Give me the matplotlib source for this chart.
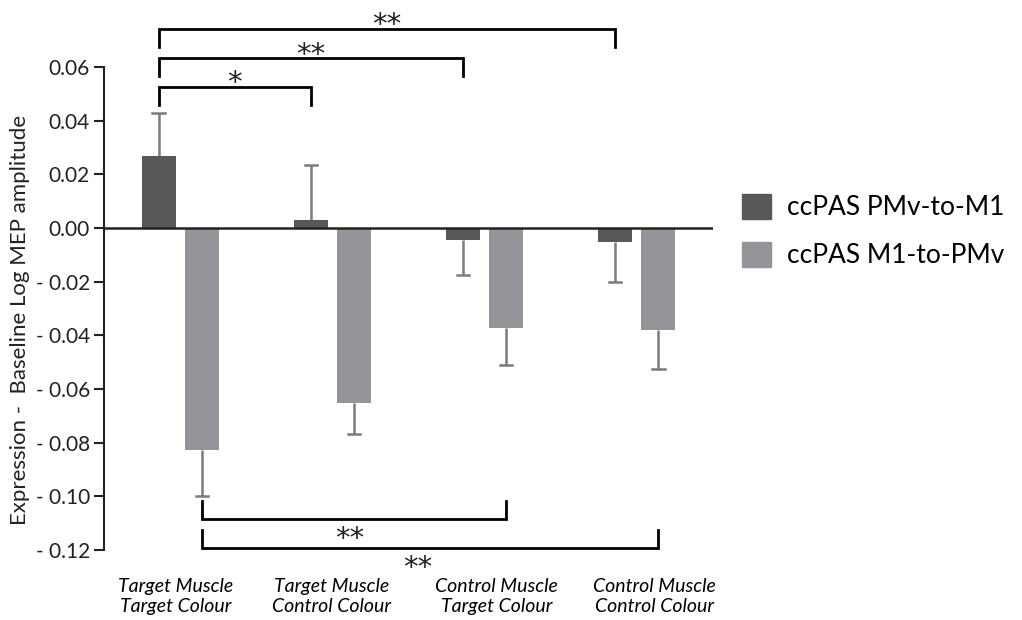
import numpy as np
import matplotlib
matplotlib.use("Agg")
import matplotlib.pyplot as plt
from matplotlib.patches import Patch

plt.rcParams['font.family'] = ['Lato', 'DejaVu Sans']

# data
groups = ["Target Muscle\nTarget Colour", "Target Muscle\nControl Colour",
          "Control Muscle\nTarget Colour", "Control Muscle\nControl Colour"]
series = ["ccPAS PMv-to-M1", "ccPAS M1-to-PMv"]
pmv_m1 = [0.0268, 0.0029, -0.0045, -0.0052]
pmv_m1_err = [0.0161, 0.0207, 0.0131, 0.0150]
m1_pmv = [-0.0826, -0.0654, -0.0374, -0.0381]
m1_pmv_err = [0.0172, 0.0115, 0.0138, 0.0146]
yticks = [0.06, 0.04, 0.02, 0.00, -0.02, -0.04, -0.06, -0.08, -0.10, -0.12]
ytick_labels = ["0.06", "0.04", "0.02", "0.00", "- 0.02", "- 0.04", "- 0.06",
                "- 0.08", "- 0.10", "- 0.12"]
ylabel = "Expression -  Baseline Log MEP amplitude"

# significance brackets: (group a, group b, label)
top_sig = [(0, 1, "*"), (0, 2, "**"), (0, 3, "**")]
bottom_sig = [(0, 2, "**"), (0, 3, "**")]

DARK = "#58585a"
LIGHT = "#939598"
ERRC = "#7a7b7d"

W, H = 1022, 620
fig = plt.figure(figsize=(W / 100, H / 100), dpi=100)
ax = fig.add_axes([104 / W, 1 - 550 / H, (713 - 104) / W, (550 - 67) / H])

x = np.arange(len(groups))
off = 0.1415
bw = 0.224
cap = 0.04
ax.bar(x - off, pmv_m1, bw, color=DARK, zorder=2)
ax.bar(x + off, m1_pmv, bw, color=LIGHT, zorder=2)

# one-sided error bars (away from zero)
def err_bar(xi, v, e):
    end = v + e if v >= 0 else v - e
    ax.plot([xi, xi], [v, end], color=ERRC, lw=1.8, zorder=1, solid_capstyle='butt')
    ax.plot([xi - cap, xi + cap], [end, end], color=ERRC, lw=1.8, zorder=1)

for xi, v, e in zip(x - off, pmv_m1, pmv_m1_err):
    err_bar(xi, v, e)
for xi, v, e in zip(x + off, m1_pmv, m1_pmv_err):
    err_bar(xi, v, e)

ax.axhline(0, color="#222222", lw=1.8, zorder=3)

ax.set_xlim(-0.5, 3.5)
ax.set_ylim(-0.12, 0.06)

# brackets above
top_y = [0.0527, 0.0634, 0.0743]
leg_top = 0.0069
for (a, b, lab), yy in zip(top_sig, top_y):
    xa, xb = x[a] - off, x[b] - off
    ax.plot([xa, xa, xb, xb], [yy - leg_top, yy, yy, yy - leg_top], color='black',
            lw=2, clip_on=False, solid_joinstyle='miter')
    ax.text((xa + xb) / 2, yy + 0.0012, lab, ha='center', va='center', fontsize=21,
            family='DejaVu Sans', color='#222222')

# brackets below
bot_y = [-0.1086, -0.1194]
star_shift = [-0.03, -0.08]
for (a, b, lab), yy, sh in zip(bottom_sig, bot_y, star_shift):
    xa, xb = x[a] + off, x[b] + off
    ax.plot([xa, xa, xb, xb], [yy + 0.0068, yy, yy, yy + 0.0068], color='black',
            lw=2, clip_on=False, solid_joinstyle='miter')
    ax.text((xa + xb) / 2 + sh, yy - 0.0072, lab, ha='center', va='center', fontsize=21,
            family='DejaVu Sans', color='#222222')

for s in ['top', 'right', 'bottom']:
    ax.spines[s].set_visible(False)
ax.spines['left'].set_linewidth(1.5)
ax.spines['left'].set_color('#222222')

ax.set_yticks(yticks)
ax.set_yticklabels(ytick_labels, fontsize=15)
ax.tick_params(axis='y', direction='out', length=7, width=1.5, colors='#222222', pad=3)

ax.set_xticks(x + np.array([-0.03, -0.003, 0.076, 0.115]))
ax.set_xticklabels(groups, fontsize=14, style='italic', linespacing=1.25)
ax.tick_params(axis='x', length=0, pad=20)

fig.text(20 / W, 1 - 320 / H, ylabel, rotation=90, ha='center', va='center',
         fontsize=16, color='#222222')

handles = [Patch(color=DARK), Patch(color=LIGHT)]
fig.legend(handles, series, loc='upper left', bbox_to_anchor=(718 / W, 1 - 170 / H),
           frameon=False, fontsize=19, handlelength=1.1, handleheight=1.1,
           handletextpad=0.6, labelspacing=0.8)

fig.savefig("out.png", dpi=100)
